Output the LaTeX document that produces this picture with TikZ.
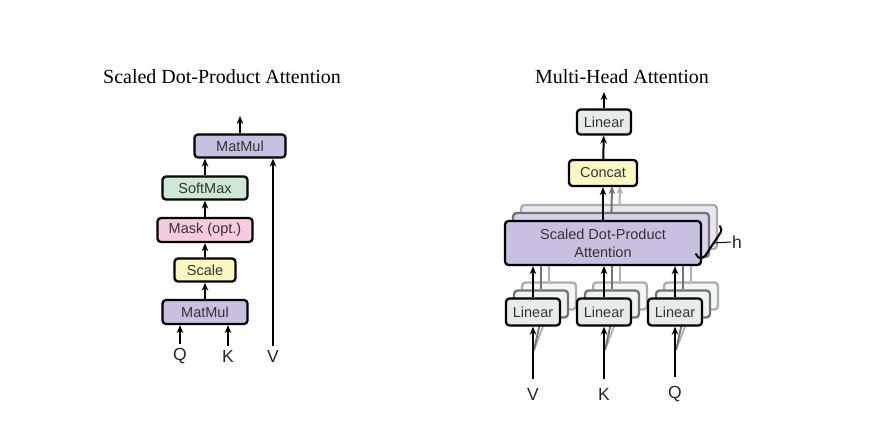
\documentclass[tikz,border=0pt]{standalone}
\usepackage{fontspec}
\setmainfont{Liberation Serif}
\setsansfont{Liberation Sans}
\usetikzlibrary{arrows.meta}
\definecolor{matmulpurple}{RGB}{199,192,224}
\definecolor{softgreen}{RGB}{206,232,213}
\definecolor{maskpink}{RGB}{248,202,222}
\definecolor{scaleyellow}{RGB}{251,248,194}
\definecolor{lineargray}{RGB}{231,236,234}
\tikzset{
	box/.style={draw=black, line width=2.3pt, rounded corners=3.5pt, inner sep=0pt, align=center,
		font=\sffamily\fontsize{14.5}{18}\selectfont, text=black!80, minimum height=23pt},
	ghost/.style={draw=black!#1, line width=2.3pt, rounded corners=3.5pt, inner sep=0pt},
	arr/.style={line width=2pt, -{Stealth[length=8pt,width=6.5pt]}},
	lbl/.style={font=\sffamily\fontsize{17.5}{20}\selectfont, text=black!85, inner sep=1pt},
	ttl/.style={font=\fontsize{20}{22}\selectfont}
}

\begin{document}
\begin{tikzpicture}[x=1pt, y=-1pt]
			%%%%% START %%%%%
			\useasboundingbox (0,0) rectangle (870,432);
			
			% scaled dot-product attention
			\node[ttl] (t1) at (222,77) {Scaled Dot-Product Attention};
			
			\node[box, fill=matmulpurple, minimum width=91pt] (mm2) at (240,146) {MatMul};
			\node[box, fill=softgreen, minimum width=85pt] (soft) at (205,188) {SoftMax};
			\node[box, fill=maskpink, minimum width=95pt, minimum height=24pt] (mask) at (205,230) {Mask (opt.)};
			\node[box, fill=scaleyellow, minimum width=61pt] (scale) at (205,270) {Scale};
			\node[box, fill=matmulpurple, minimum width=85pt, minimum height=24pt] (mm1) at (205,312) {MatMul};
			
			\node[lbl] (q) at (180,356) {Q};
			\node[lbl] (k) at (228,356) {K};
			\node[lbl] (v) at (273,356) {V};
			\coordinate (outl) at (240,116);
			
			\draw[arr, shorten <=3pt] (q) -- (q |- mm1.south);
			\draw[arr, shorten <=3pt] (k) -- (k |- mm1.south);
			\draw[arr, shorten <=3pt] (v) -- (v |- mm2.south);
			\draw[arr] (mm1) -- (scale);
			\draw[arr] (scale) -- (mask);
			\draw[arr] (mask) -- (soft);
			\draw[arr] (soft) -- (soft |- mm2.south);
			\draw[arr] (mm2) -- (outl);
			
			% multi-head attention
			\node[ttl] (t2) at (622,77) {Multi-Head Attention};
			
			% the stacked copies, back one first
			\foreach \i/\g/\f in {2/32/40, 1/55/70} {
				\foreach \x/\n in {533/V, 604/K, 675/Q} {
					\node[ghost=\g, fill=lineargray!\f, minimum width=54pt, minimum height=27pt] (lin\n-\i) at ({\x+8*\i},{312-8*\i}) {};
					\draw[arr, draw=black!\g] (lin\n-\i) -- ({\x+8*\i},{265-8*\i});
					\draw[line width=1.8pt, draw=black!\g] ({\x+1},350) -- (lin\n-\i.south);
				}
				\node[ghost=\g, fill=matmulpurple!\f, minimum width=196pt, minimum height=44pt] (sdpa-\i) at ({603+8*\i},{243-8*\i}) {};
				\draw[arr, draw=black!\g] (sdpa-\i) -- ({604+8*\i},186);
			}
			
			\node[box, fill=lineargray, minimum width=54pt, minimum height=25pt] (lin) at (604,122) {Linear};
			\node[box, fill=scaleyellow, minimum width=68pt, minimum height=26pt] (concat) at (603,173) {Concat};
			\node[box, fill=matmulpurple, minimum width=196pt, minimum height=44pt] (sdpa) at (603,243) {Scaled Dot-Product\\Attention};
			\node[box, fill=lineargray, minimum width=54pt, minimum height=27pt] (linV) at (533,312) {Linear};
			\node[box, fill=lineargray, minimum width=54pt, minimum height=27pt] (linK) at (604,312) {Linear};
			\node[box, fill=lineargray, minimum width=54pt, minimum height=27pt] (linQ) at (675,312) {Linear};
			
			\node[lbl] (vv) at (533,394) {V};
			\node[lbl] (kk) at (604,394) {K};
			\node[lbl] (qq) at (675,394) {Q};
			\node[lbl] (hlab) at (737,242) {h};
			\coordinate (outr) at (604,92);
			\coordinate (hb) at (713,243);
			
			\draw[arr, shorten <=8pt] (vv) -- (linV);
			\draw[arr, shorten <=8pt] (kk) -- (linK);
			\draw[arr, shorten <=8pt] (qq) -- (linQ);
			\draw[arr] (linV) -- (linV |- sdpa.south);
			\draw[arr] (linK) -- (linK |- sdpa.south);
			\draw[arr] (linQ) -- (linQ |- sdpa.south);
			\draw[arr] (sdpa.north -| concat) -- (concat);
			\draw[arr] (concat) -- (lin);
			\draw[arr] (lin) -- (outr);
			
			% the h brace
			\draw[line width=2pt, line join=round, line cap=round] (696,254) .. controls (698,259) and (702,259) .. (705,256) -- (719,235) .. controls (722,231) and (722,228) .. (720,226);
			\draw[line width=1pt] (hb) -- (hlab.west);
			
			%%%%% END %%%%%
\end{tikzpicture}
\end{document}
